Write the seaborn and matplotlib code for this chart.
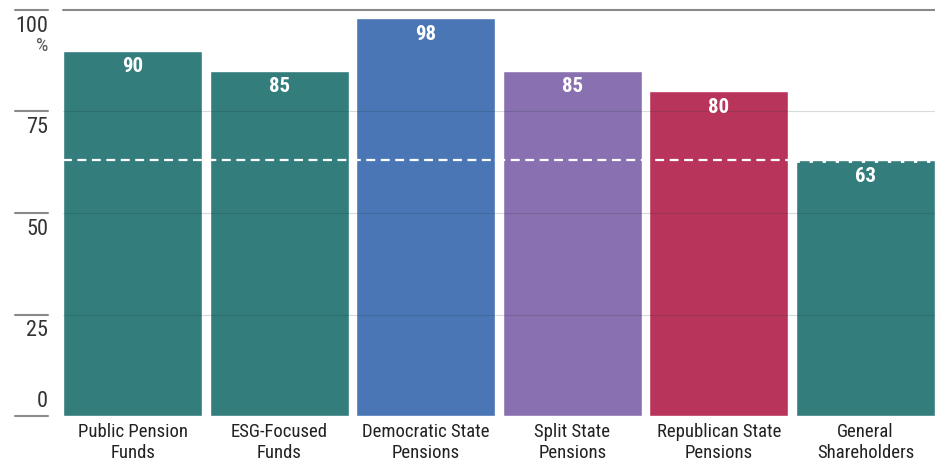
import numpy as np
import pandas as pd
import matplotlib
matplotlib.use("Agg")
import matplotlib.pyplot as plt
import matplotlib.transforms as mtransforms
from matplotlib import font_manager
import seaborn as sns

# data
categories = ["Public Pension\nFunds", "ESG-Focused\nFunds", "Democratic State\nPensions",
              "Split State\nPensions", "Republican State\nPensions", "General\nShareholders"]
support = [90, 85, 98, 85, 80, 63]
bar_colors = ["#337d7d", "#337d7d", "#4a76b6", "#8970b0", "#b9345a", "#337d7d"]
benchmark = 63
yticks = [0, 25, 50, 75, 100]

sns.set_style("white")
installed = {f.name for f in font_manager.fontManager.ttflist}
fams = [f for f in ["Roboto Condensed", "Liberation Sans Narrow", "Roboto", "Liberation Sans"]
        if f in installed]
plt.rcParams["font.family"] = fams + ["DejaVu Sans"]

df = pd.DataFrame({"group": categories, "support": support})

fig = plt.figure(figsize=(9.35, 4.63), dpi=100)
ax = fig.add_axes([63 / 935, 1 - 416 / 463, 872 / 935, 406 / 463])

width = 0.95
sns.barplot(data=df, x="group", y="support", hue="group", palette=bar_colors,
            width=width, saturation=1, legend=False, ax=ax, zorder=1)

ax.set_xlim(-width / 2, len(categories) - 1 + width / 2)
ax.set_ylim(0, 100)
ax.set_xlabel("")
ax.set_ylabel("")
sns.despine(ax=ax, left=True, bottom=True, top=True, right=True)
ax.set_yticks([])
ax.tick_params(axis="x", length=0, pad=5, labelsize=13.5, colors="#222222")
for lbl in ax.get_xticklabels():
    lbl.set_linespacing(1.22)

# gridlines faintly visible over the bars
for t in yticks[1:-1]:
    ax.axhline(t, color="#1a3a3a", lw=0.8, alpha=0.18, zorder=3)
ax.axhline(100, color="#8a8a8a", lw=1.5, zorder=3, clip_on=False)

# y tick marks and labels in the left margin
trans = mtransforms.blended_transform_factory(fig.transFigure, ax.transData)
for t in yticks:
    ax.plot([15 / 935, 48 / 935], [t, t], color="#8a8a8a", lw=1.5,
            transform=trans, clip_on=False)
    if t == 0:
        ax.text(48 / 935, t + 1.0, str(t), transform=trans, ha="right", va="bottom",
                fontsize=16, color="#333333")
    else:
        ax.text(48 / 935, t - 1.4, str(t), transform=trans, ha="right", va="top",
                fontsize=16, color="#333333")
ax.text(48 / 935, 100 - 6.6, "%", transform=trans, ha="right", va="top",
        fontsize=14, color="#555555")

# benchmark line
last = len(categories) - 1
ax.hlines(benchmark, -width / 2, last - width / 2, colors="white", lw=1.6,
          linestyles=(0, (4, 2.5)), zorder=4)
ax.hlines(benchmark - 0.2, last - width / 2, last + width / 2, colors="white", lw=2,
          linestyles=(0, (1.2, 3.5)), zorder=4)

# value labels
for i, v in enumerate(support):
    ax.text(i, v - 1.6, f"{v}", ha="center", va="top", color="white",
            fontsize=15, fontweight="bold", zorder=5)

fig.savefig("out.png", dpi=100)
